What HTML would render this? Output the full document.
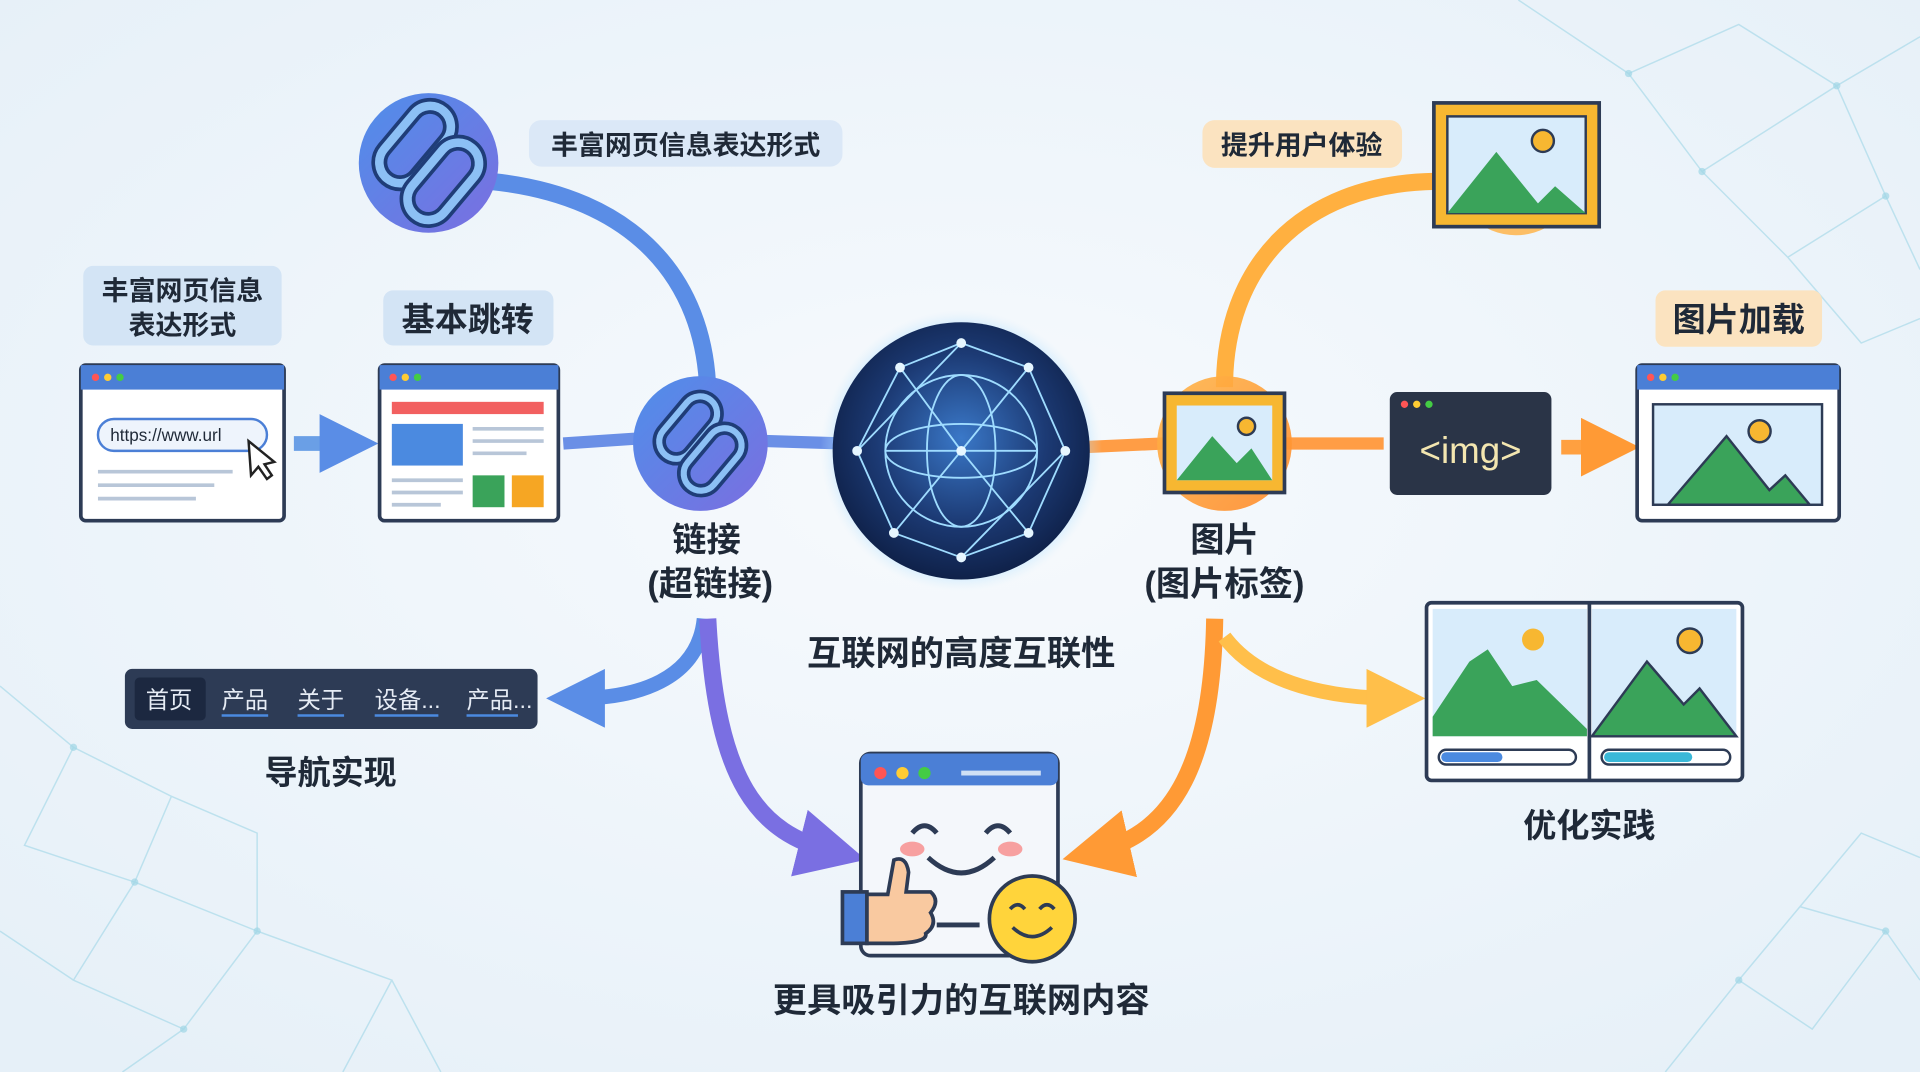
<!DOCTYPE html>
<html><head><meta charset="utf-8"><style>
html,body{margin:0;padding:0;width:1920px;height:1072px;overflow:hidden;background:#eef5fb}
svg{display:block}
text{font-family:"Liberation Sans","Noto Sans CJK SC",sans-serif}
</style></head><body>
<svg width="1920" height="1072" viewBox="0 0 1568 875" preserveAspectRatio="none" xmlns="http://www.w3.org/2000/svg">
<defs>
<radialGradient id="bg" cx="50%" cy="45%" r="70%"><stop offset="0" stop-color="#f7fafd"/><stop offset="1" stop-color="#e6f0f8"/></radialGradient>
<linearGradient id="blueC" x1="0" y1="0" x2="1" y2="1"><stop offset="0" stop-color="#4f8fea"/><stop offset="1" stop-color="#7b6ee0"/></linearGradient>
<radialGradient id="globe" cx="50%" cy="45%" r="55%"><stop offset="0" stop-color="#3a78c8"/><stop offset="0.6" stop-color="#1c3a74"/><stop offset="1" stop-color="#0f2149"/></radialGradient>
<radialGradient id="glow" cx="50%" cy="50%" r="50%"><stop offset="0.8" stop-color="#7ccfff" stop-opacity="0.7"/><stop offset="1" stop-color="#cfeaff" stop-opacity="0"/></radialGradient>
<linearGradient id="orC" x1="0" y1="0" x2="1" y2="1"><stop offset="0" stop-color="#ffb64a"/><stop offset="1" stop-color="#ff8a2a"/></linearGradient>
<marker id="ab" markerWidth="4" markerHeight="4" refX="2" refY="2" orient="auto" markerUnits="strokeWidth"><path d="M0,0 L4,2 L0,4 z" fill="#5a8de6"/></marker>
<marker id="ap" markerWidth="4" markerHeight="4" refX="2" refY="2" orient="auto" markerUnits="strokeWidth"><path d="M0,0 L4,2 L0,4 z" fill="#7a6fe2"/></marker>
<marker id="ao" markerWidth="4" markerHeight="4" refX="2" refY="2" orient="auto" markerUnits="strokeWidth"><path d="M0,0 L4,2 L0,4 z" fill="#ff9a35"/></marker>
<marker id="ay" markerWidth="4" markerHeight="4" refX="2" refY="2" orient="auto" markerUnits="strokeWidth"><path d="M0,0 L4,2 L0,4 z" fill="#ffbf4a"/></marker>
</defs>
<rect width="1568" height="875" fill="url(#bg)"/>
<g stroke="#9fd6e6" stroke-width="1.2" fill="none" opacity="0.6">
<path d="M1240,0 L1330,60 L1420,20 L1500,70 L1568,30 M1330,60 L1390,140 L1500,70 L1540,160 L1568,220 M1390,140 L1460,210 L1540,160 M1460,210 L1520,280 L1568,260"/>
<path d="M0,560 L60,610 L20,690 L110,720 L60,800 L150,840 L100,875 M60,610 L140,650 L110,720 L210,760 L150,840 M140,650 L210,680 L210,760 L320,800 L280,875 M0,760 L60,800 M320,800 L360,875"/>
<path d="M1360,875 L1420,800 L1480,840 L1540,760 L1568,800 M1420,800 L1470,740 L1540,760 M1470,740 L1520,680 L1568,700"/>
</g>
<g fill="#9fd6e6" opacity="0.7"><circle cx="1330" cy="60" r="3"/><circle cx="1500" cy="70" r="3"/><circle cx="1390" cy="140" r="3"/><circle cx="1540" cy="160" r="3"/><circle cx="60" cy="610" r="3"/><circle cx="110" cy="720" r="3"/><circle cx="210" cy="760" r="3"/><circle cx="150" cy="840" r="3"/><circle cx="1420" cy="800" r="3"/><circle cx="1540" cy="760" r="3"/></g>

<path d="M400,148 C520,160 575,230 578,318" stroke="#5a8de6" stroke-width="14" fill="none"/>
<path d="M1000,316 C1000,220 1060,150 1172,148" stroke="#ffb040" stroke-width="14" fill="none"/>
<path d="M460,362 L520,358 M625,360 L690,362" stroke="#6a8fe6" stroke-width="10" fill="none"/>
<path d="M885,365 L950,362 M1050,362 L1130,362" stroke="#ff9d45" stroke-width="10" fill="none"/>
<path d="M575,505 C570,555 520,570 470,570" stroke="#5a8de6" stroke-width="12" fill="none" marker-end="url(#ab)"/>
<path d="M578,505 C585,640 620,680 680,695" stroke="#7a6fe2" stroke-width="14" fill="none" marker-end="url(#ap)"/>
<path d="M992,505 C990,620 960,680 895,695" stroke="#ff9a35" stroke-width="14" fill="none" marker-end="url(#ao)"/>
<path d="M1000,520 C1030,560 1090,570 1140,570" stroke="#ffbf4a" stroke-width="12" fill="none" marker-end="url(#ay)"/>
<path d="M240,362 L285,362" stroke="#6a9fe6" stroke-width="12" marker-end="url(#ab)"/>
<path d="M1275,365 L1315,365" stroke="#ffa040" stroke-width="12" marker-end="url(#ao)"/>

<!-- top chain -->
<circle cx="350" cy="133" r="57" fill="url(#blueC)"/>
<g fill="none"><rect x="322" y="82" width="34" height="72" rx="17" transform="rotate(40 339 118)" stroke="#1f3d78" stroke-width="13"/><rect x="322" y="82" width="34" height="72" rx="17" transform="rotate(40 339 118)" stroke="#8cc0f5" stroke-width="7"/>
<rect x="345" y="112" width="34" height="72" rx="17" transform="rotate(40 362 148)" stroke="#1f3d78" stroke-width="13"/><rect x="345" y="112" width="34" height="72" rx="17" transform="rotate(40 362 148)" stroke="#8cc0f5" stroke-width="7"/></g>
<rect x="432" y="98" width="256" height="38" rx="10" fill="#dbe8f7"/>
<text x="560" y="126" font-size="22" font-weight="bold" text-anchor="middle" fill="#1f2937">丰富网页信息表达形式</text>

<rect x="68" y="217" width="162" height="65" rx="8" fill="#d3e4f5"/>
<text x="149" y="245" font-size="22" font-weight="bold" text-anchor="middle" fill="#1f2937">丰富网页信息</text>
<text x="149" y="273" font-size="22" font-weight="bold" text-anchor="middle" fill="#1f2937">表达形式</text>
<rect x="66" y="298" width="166" height="127" rx="4" fill="#fff" stroke="#2d3b55" stroke-width="3"/>
<rect x="66" y="298" width="166" height="20" fill="#4b7fd6"/>
<circle cx="78" cy="308" r="3" fill="#f55"/><circle cx="88" cy="308" r="3" fill="#fc3"/><circle cx="98" cy="308" r="3" fill="#4c4"/>
<rect x="80" y="342" width="138" height="26" rx="13" fill="#eef4fc" stroke="#4b7fd6" stroke-width="2"/>
<text x="90" y="360" font-size="14" fill="#1f2937">https://www.url</text>
<path d="M203,360 L205,388 L211,381 L218,391 L222,388 L216,379 L224,377 z" fill="#fff" stroke="#222" stroke-width="2"/>
<g stroke="#b8c6d8" stroke-width="3"><line x1="80" y1="385" x2="190" y2="385"/><line x1="80" y1="396" x2="175" y2="396"/><line x1="80" y1="407" x2="160" y2="407"/></g>

<rect x="313" y="237" width="139" height="45" rx="8" fill="#d3e4f5"/>
<text x="382" y="270" font-size="27" font-weight="bold" text-anchor="middle" fill="#1f2937">基本跳转</text>
<rect x="310" y="298" width="146" height="127" rx="4" fill="#fff" stroke="#2d3b55" stroke-width="3"/>
<rect x="310" y="298" width="146" height="20" fill="#4b7fd6"/>
<circle cx="321" cy="308" r="3" fill="#f55"/><circle cx="331" cy="308" r="3" fill="#fc3"/><circle cx="341" cy="308" r="3" fill="#4c4"/>
<rect x="320" y="328" width="124" height="10" fill="#f26060"/>
<rect x="320" y="346" width="58" height="34" fill="#4b8ae0"/>
<g stroke="#b8c6d8" stroke-width="3"><line x1="386" y1="350" x2="444" y2="350"/><line x1="386" y1="360" x2="444" y2="360"/><line x1="386" y1="370" x2="430" y2="370"/><line x1="320" y1="392" x2="378" y2="392"/><line x1="320" y1="402" x2="378" y2="402"/><line x1="320" y1="412" x2="360" y2="412"/></g>
<rect x="386" y="388" width="26" height="26" fill="#3aa35a"/><rect x="418" y="388" width="26" height="26" fill="#f6a623"/>

<!-- middle chain -->
<circle cx="572" cy="362" r="55" fill="url(#blueC)"/>
<g fill="none"><rect x="548" y="320" width="28" height="58" rx="14" transform="rotate(40 562 349)" stroke="#1f3d78" stroke-width="11"/><rect x="548" y="320" width="28" height="58" rx="14" transform="rotate(40 562 349)" stroke="#8cc0f5" stroke-width="5"/>
<rect x="568" y="346" width="28" height="58" rx="14" transform="rotate(40 582 375)" stroke="#1f3d78" stroke-width="11"/><rect x="568" y="346" width="28" height="58" rx="14" transform="rotate(40 582 375)" stroke="#8cc0f5" stroke-width="5"/></g>
<text x="577" y="450" font-size="28" font-weight="bold" text-anchor="middle" fill="#1f2937">链接</text>
<text x="580" y="486" font-size="28" font-weight="bold" text-anchor="middle" fill="#1f2937">(超链接)</text>

<circle cx="785" cy="368" r="115" fill="url(#glow)"/>
<circle cx="785" cy="368" r="105" fill="url(#globe)"/>
<g stroke="#9fdcff" stroke-width="1.5" fill="none">
<circle cx="785" cy="368" r="62"/><ellipse cx="785" cy="368" rx="28" ry="62"/><line x1="723" y1="368" x2="847" y2="368"/><ellipse cx="785" cy="368" rx="62" ry="22"/>
<path d="M700,368 L735,300 L785,280 L840,300 L870,368 L840,435 L785,455 L730,435 z M735,300 L785,368 L840,300 M730,435 L785,368 L840,435 M700,368 L785,280 M870,368 L785,455"/>
</g>
<g fill="#e6f6ff"><circle cx="700" cy="368" r="4"/><circle cx="735" cy="300" r="4"/><circle cx="785" cy="280" r="4"/><circle cx="840" cy="300" r="4"/><circle cx="870" cy="368" r="4"/><circle cx="840" cy="435" r="4"/><circle cx="785" cy="455" r="4"/><circle cx="730" cy="435" r="4"/><circle cx="785" cy="368" r="4"/></g>
<text x="785" y="543" font-size="28" font-weight="bold" text-anchor="middle" fill="#1f2937">互联网的高度互联性</text>

<circle cx="1000" cy="362" r="55" fill="url(#orC)" opacity="0.9"/>
<rect x="951" y="321" width="98" height="81" fill="#f7b731" stroke="#2d3b55" stroke-width="3"/>
<rect x="961" y="331" width="78" height="61" fill="#d8ecfb"/>
<path d="M961,392 L990,356 L1010,378 L1022,366 L1039,392 z" fill="#3aa35a"/><circle cx="1018" cy="348" r="7" fill="#f7b731" stroke="#2d3b55" stroke-width="2"/>
<text x="1000" y="450" font-size="28" font-weight="bold" text-anchor="middle" fill="#1f2937">图片</text>
<text x="1000" y="486" font-size="28" font-weight="bold" text-anchor="middle" fill="#1f2937">(图片标签)</text>

<rect x="1135" y="320" width="132" height="84" rx="6" fill="#2a3447"/>
<circle cx="1147" cy="330" r="3" fill="#f55"/><circle cx="1157" cy="330" r="3" fill="#fc3"/><circle cx="1167" cy="330" r="3" fill="#4c4"/>
<text x="1201" y="378" font-size="30" font-family="Liberation Mono,monospace" text-anchor="middle" fill="#f3e6b0">&lt;img&gt;</text>

<rect x="1352" y="237" width="136" height="46" rx="8" fill="#fbe3c0"/>
<text x="1420" y="270" font-size="27" font-weight="bold" text-anchor="middle" fill="#1f2937">图片加载</text>
<rect x="1337" y="298" width="165" height="127" rx="4" fill="#fff" stroke="#2d3b55" stroke-width="3"/>
<rect x="1337" y="298" width="165" height="20" fill="#4b7fd6"/>
<circle cx="1348" cy="308" r="3" fill="#f55"/><circle cx="1358" cy="308" r="3" fill="#fc3"/><circle cx="1368" cy="308" r="3" fill="#4c4"/>
<rect x="1350" y="330" width="138" height="82" fill="#d8ecfb" stroke="#2d3b55" stroke-width="2"/>
<path d="M1362,412 L1410,356 L1445,400 L1458,388 L1478,412 z" fill="#3aa35a" stroke="#2d3b55" stroke-width="2"/><circle cx="1437" cy="352" r="9" fill="#f7b731" stroke="#2d3b55" stroke-width="2"/>

<rect x="982" y="98" width="163" height="39" rx="10" fill="#fbe3c0"/>
<text x="1063" y="126" font-size="22" font-weight="bold" text-anchor="middle" fill="#1f2937">提升用户体验</text>
<circle cx="1238" cy="140" r="52" fill="#ffb040" opacity="0.8"/>
<rect x="1171" y="84" width="135" height="101" fill="#f7b731" stroke="#2d3b55" stroke-width="3"/>
<rect x="1182" y="95" width="113" height="79" fill="#d8ecfb" stroke="#2d3b55" stroke-width="2"/>
<path d="M1182,174 L1222,124 L1256,166 L1270,152 L1295,174 z" fill="#3aa35a"/><circle cx="1260" cy="115" r="9" fill="#f7b731" stroke="#2d3b55" stroke-width="2"/>

<rect x="102" y="546" width="337" height="49" rx="6" fill="#2d3b55"/>
<rect x="110" y="553" width="58" height="35" rx="4" fill="#1c2840"/>
<g font-size="19" fill="#e6ecf5"><text x="119" y="578">首页</text><text x="181" y="578">产品</text><text x="243" y="578">关于</text><text x="306" y="578">设备...</text><text x="381" y="578">产品...</text></g>
<g stroke="#4b8ae0" stroke-width="2"><line x1="181" y1="584" x2="219" y2="584"/><line x1="243" y1="584" x2="281" y2="584"/><line x1="306" y1="584" x2="358" y2="584"/><line x1="381" y1="584" x2="423" y2="584"/></g>
<text x="270" y="640" font-size="27" font-weight="bold" text-anchor="middle" fill="#1f2937">导航实现</text>

<rect x="703" y="615" width="161" height="165" rx="8" fill="#f4f7fb" stroke="#2d3b55" stroke-width="3"/>
<rect x="703" y="615" width="161" height="26" rx="6" fill="#4b7fd6"/>
<circle cx="719" cy="631" r="5" fill="#f55"/><circle cx="737" cy="631" r="5" fill="#fc3"/><circle cx="755" cy="631" r="5" fill="#4c4"/>
<line x1="785" y1="631" x2="850" y2="631" stroke="#cfe0f5" stroke-width="4"/>
<path d="M745,680 Q755,668 765,680 M805,680 Q815,668 825,680 M758,700 Q785,725 812,700" stroke="#2d3b55" stroke-width="4" fill="none"/>
<ellipse cx="745" cy="693" rx="10" ry="6" fill="#f7a0a0"/><ellipse cx="825" cy="693" rx="10" ry="6" fill="#f7a0a0"/>
<rect x="688" y="728" width="20" height="42" fill="#4b7fd6" stroke="#2d3b55" stroke-width="3"/>
<path d="M708,730 L725,730 L730,702 Q740,698 742,712 L740,728 L760,728 Q768,735 760,745 Q766,755 756,762 Q758,770 725,770 L708,770 z" fill="#f9c9a0" stroke="#2d3b55" stroke-width="3"/>
<line x1="765" y1="755" x2="800" y2="755" stroke="#2d3b55" stroke-width="4"/>
<circle cx="843" cy="750" r="35" fill="#ffd43b" stroke="#2d3b55" stroke-width="3"/>
<path d="M825,742 Q831,735 837,742 M849,742 Q855,735 861,742 M827,757 Q843,772 859,757" stroke="#2d3b55" stroke-width="3" fill="none"/>
<text x="785" y="826" font-size="28" font-weight="bold" text-anchor="middle" fill="#1f2937">更具吸引力的互联网内容</text>

<rect x="1165" y="492" width="258" height="145" rx="4" fill="#fff" stroke="#2d3b55" stroke-width="3"/>
<rect x="1170" y="497" width="126" height="104" fill="#d8ecfb"/>
<rect x="1300" y="497" width="118" height="104" fill="#d8ecfb"/>
<line x1="1298" y1="492" x2="1298" y2="637" stroke="#2d3b55" stroke-width="3"/>
<path d="M1170,601 L1170,585 L1200,540 L1215,530 L1235,560 L1255,555 L1296,595 L1296,601 z" fill="#3aa35a"/>
<circle cx="1252" cy="522" r="9" fill="#f7b731"/>
<path d="M1300,601 L1345,540 L1375,575 L1388,562 L1418,601 z" fill="#3aa35a" stroke="#2d3b55" stroke-width="2"/>
<circle cx="1380" cy="523" r="10" fill="#f7b731" stroke="#2d3b55" stroke-width="2"/>
<rect x="1175" y="612" width="112" height="12" rx="6" fill="#fff" stroke="#2d3b55" stroke-width="2"/><rect x="1177" y="614" width="50" height="8" rx="4" fill="#4b8ae0"/>
<rect x="1308" y="612" width="105" height="12" rx="6" fill="#fff" stroke="#2d3b55" stroke-width="2"/><rect x="1310" y="614" width="72" height="8" rx="4" fill="#3ab8d8"/>
<text x="1298" y="683" font-size="27" font-weight="bold" text-anchor="middle" fill="#1f2937">优化实践</text>
</svg>
</body></html>
